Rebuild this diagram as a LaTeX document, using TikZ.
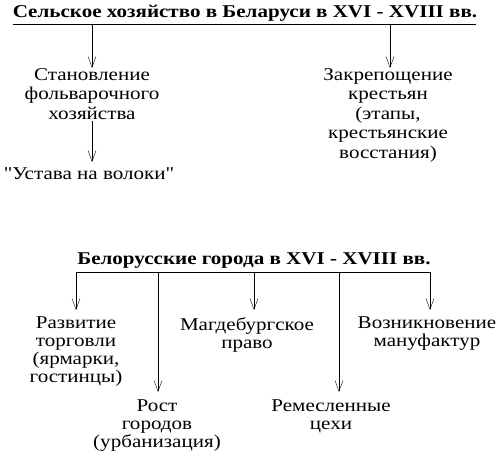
\documentclass[tikz,border=0pt]{standalone}
\usepackage{fontspec}
\setmainfont{Liberation Serif}[FakeStretch=1.17,Ligatures=TeXOff]
\usetikzlibrary{arrows.meta}
\begin{document}
\begin{tikzpicture}[x=1pt,y=-1pt,
  txt/.style={align=center,font=\fontsize{18}{19.5}\selectfont,inner sep=0pt,anchor=north},
  txtb/.style={txt,font=\fontsize{18}{18}\selectfont},
  ttl/.style={font=\bfseries\fontsize{18}{19.5}\selectfont,inner sep=0pt,anchor=base},
  arr/.style={-{Straight Barb[length=11pt,width=8pt]}}]
\useasboundingbox (0,0) rectangle (499,452);
% agriculture
\node[ttl] (agro) at (245,18){Сельское хозяйство в Беларуси в XVI - XVIII вв.};
\coordinate (al) at (13,24);
\coordinate (ar) at (476,24);
\draw (al) -- (ar);
\coordinate (a1) at (92,24);
\coordinate (a2) at (390,24);
\node[txt] (folv) at (92,68){Становление\\фольварочного\\хозяйства};
\node[txt] (ustava) at (89,168){"Устава на волоки"};
\draw[arr] (a1) -- (a1 |- folv.north);
\node[txt] (zakr) at (388,68){Закрепощение\\крестьян\\(этапы,\\крестьянские\\восстания)};
\draw[arr] (a2) -- (a2 |- zakr.north);
\draw[arr] (folv.south) ++(0,2) -- (92,162);
% towns
\node[ttl] (goroda) at (254,264){Белорусские города в XVI - XVIII вв.};
\coordinate (bl) at (76,272);
\coordinate (br) at (430,272);
\draw (bl) -- (br);
\node[txtb] (torg) at (76,317){Развитие\\торговли\\(ярмарки,\\гостинцы)};
\node[txtb] (rost) at (157,400){Рост\\городов\\(урбанизация)};
\node[txtb] (magd) at (247,317){Магдебургское\\право};
\node[txtb] (rem) at (331,400){Ремесленные\\цехи};
\node[txtb] (manuf) at (427,317){Возникновение\\мануфактур};
\draw[arr] (bl) -- (76,310);
\draw[arr] (158,272) -- (158,392);
\draw[arr] (254,272) -- (254,310);
\draw[arr] (339,272) -- (339,392);
\draw[arr] (br) -- (430,310);
\end{tikzpicture}
\end{document}
